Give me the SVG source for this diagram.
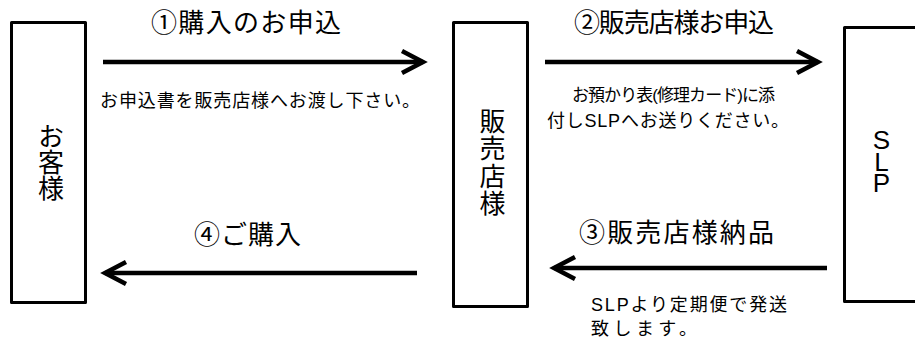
<svg xmlns="http://www.w3.org/2000/svg" width="915" height="341" viewBox="0 0 915 341">
  <style>
    .box { fill: none; stroke: #000; stroke-width: 3; stroke-linejoin: round; }
    .arrow { stroke: #000; stroke-width: 4.5; fill: none; marker-end: url(#chev); }
    .t { font-family: "Liberation Sans", "Noto Sans CJK JP", sans-serif; fill: #000; }
    .title { font-size: 26px; }
    .small { font-size: 18px; }
    .vert { font-size: 26px; writing-mode: vertical-rl; text-orientation: upright; }
  </style>
  <defs>
    <marker id="chev" markerUnits="userSpaceOnUse" viewBox="0 0 32 26" markerWidth="32" markerHeight="26" refX="23" refY="13" orient="auto" overflow="visible">
      <path d="M2,2 L23,13 L2,24" fill="none" stroke="#000" stroke-width="4.5" stroke-linejoin="miter"/>
    </marker>
  </defs>
  <rect width="915" height="341" fill="#fff"/>

  <g id="customer">
    <rect class="box" x="11.5" y="22.5" width="74" height="280"/>
    <text class="t vert" x="48.5" y="123">お客様</text>
  </g>

  <g id="dealer">
    <rect class="box" x="453.5" y="22.5" width="74" height="284"/>
    <text class="t vert" x="490" y="108" letter-spacing="1.5">販売店様</text>
  </g>

  <g id="slp">
    <rect class="box" x="844.5" y="27.5" width="100" height="274"/>
    <text class="t vert" x="881.5" y="125" letter-spacing="-8.3">SLP</text>
  </g>

  <g id="connectors">
    <line class="arrow" x1="103" y1="62" x2="423" y2="62"/>
    <line class="arrow" x1="545" y1="62" x2="818" y2="62"/>
    <line class="arrow" x1="827" y1="268" x2="554" y2="268"/>
    <line class="arrow" x1="417" y1="273" x2="105" y2="273"/>
  </g>

  <g id="labels">
    <text class="t title" x="151" y="32" textLength="190" lengthAdjust="spacing">①購入のお申込</text>
    <text class="t small" x="100" y="107" textLength="320" lengthAdjust="spacing">お申込書を販売店様へお渡し下さい。</text>

    <text class="t title" x="574" y="32" textLength="200" lengthAdjust="spacing">②販売店様お申込</text>
    <text class="t small" x="572" y="101" style="font-size:17px" textLength="203" lengthAdjust="spacing">お預かり表(修理カード)に添</text>
    <text class="t small" x="547" y="127" textLength="242" lengthAdjust="spacing">付しSLPへお送りください。</text>

    <text class="t title" x="579" y="242" textLength="195" lengthAdjust="spacing">③販売店様納品</text>
    <text class="t small" x="591" y="311" textLength="196" lengthAdjust="spacing">SLPより定期便で発送</text>
    <text class="t small" x="591" y="335" textLength="106" lengthAdjust="spacing">致します。</text>

    <text class="t title" x="194" y="244" textLength="107" lengthAdjust="spacing">④ご購入</text>
  </g>
</svg>
